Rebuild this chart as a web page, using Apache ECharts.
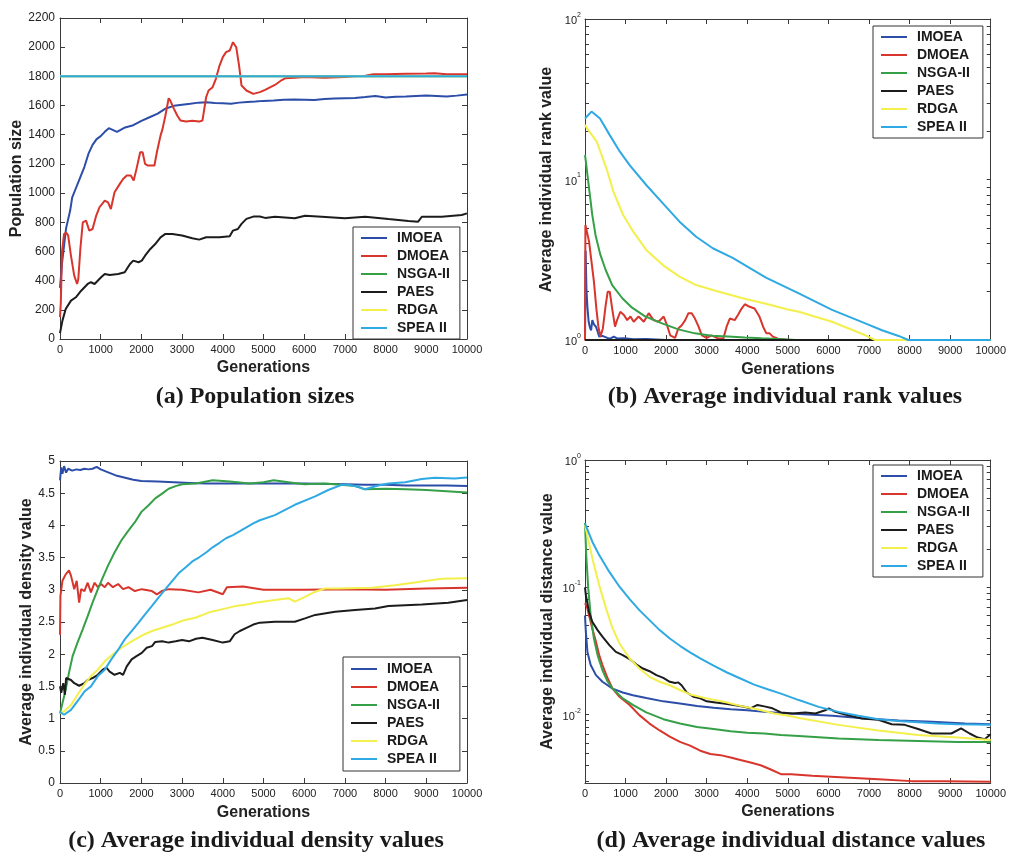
<!DOCTYPE html>
<html>
<head>
<meta charset="utf-8">
<script src="https://cdn.jsdelivr.net/npm/echarts@6/dist/echarts.min.js"></script>
<style>
html,body{margin:0;padding:0;background:#fff;}
#chart{width:1009px;height:857px;}
</style>
</head>
<body>
<div id="chart"></div>
<script>
// ---------- labels ----------
const seriesNames = ['IMOEA', 'DMOEA', 'NSGA-II', 'PAES', 'RDGA', 'SPEA II'];
const captions = ['(a) Population sizes', '(b) Average individual rank values', '(c) Average individual density values', '(d) Average individual distance values'];
const yAxisNames = ['Population size', 'Average individual rank value', 'Average individual density value', 'Average individual distance value'];
const xAxisName = 'Generations';

// ---------- tick values ----------
const logMajorB = [1, 10, 100];
const logMinorB = [2, 3, 4, 5, 6, 7, 8, 9, 20, 30, 40, 50, 60, 70, 80, 90];
const logMajorD = [0.01, 0.1, 1];
const logMinorD = [0.003, 0.004, 0.005, 0.006, 0.007, 0.008, 0.009, 0.02, 0.03, 0.04, 0.05, 0.06, 0.07, 0.08, 0.09, 0.2, 0.3, 0.4, 0.5, 0.6, 0.7, 0.8, 0.9];

// ---------- (a) population sizes ----------
const aGenIMOEA = [0, 50, 100, 150, 200, 250, 300, 400, 500, 600, 700, 800, 900, 1000, 1100, 1200, 1400, 1600, 1800, 2000, 2200, 2400, 2600, 2800, 3000, 3200, 3400, 3600, 3800, 4000, 4200, 4400, 4600, 4800, 5000, 5250, 5500, 5750, 6000, 6250, 6500, 6750, 7000, 7250, 7500, 7750, 8000, 8250, 8500, 8750, 9000, 9250, 9500, 9750, 10000];
const aIMOEA = [350, 520, 640, 760, 820, 880, 970, 1040, 1110, 1180, 1270, 1330, 1370, 1390, 1420, 1445, 1420, 1450, 1465, 1495, 1520, 1545, 1580, 1598, 1605, 1612, 1620, 1622, 1618, 1615, 1612, 1620, 1625, 1628, 1632, 1635, 1640, 1642, 1640, 1638, 1645, 1648, 1650, 1652, 1658, 1665, 1655, 1660, 1662, 1665, 1668, 1665, 1662, 1668, 1675];
const aGenDMOEA = [0, 20, 50, 100, 150, 200, 270, 350, 420, 450, 500, 560, 640, 720, 800, 890, 970, 1100, 1180, 1250, 1340, 1470, 1550, 1640, 1740, 1810, 1880, 1970, 2030, 2090, 2160, 2320, 2380, 2470, 2520, 2590, 2670, 2710, 2800, 2880, 2960, 3100, 3250, 3420, 3500, 3590, 3650, 3750, 3830, 3920, 4000, 4080, 4170, 4250, 4330, 4400, 4460, 4580, 4750, 4910, 5040, 5280, 5450, 5530, 5770, 6000, 6500, 7000, 7200, 7500, 7700, 8000, 8500, 9000, 9200, 9500, 10000];
const aDMOEA = [150, 250, 600, 720, 730, 710, 570, 434, 377, 411, 617, 800, 811, 743, 754, 846, 903, 949, 937, 891, 1006, 1063, 1097, 1120, 1120, 1086, 1166, 1280, 1280, 1200, 1189, 1189, 1280, 1394, 1440, 1532, 1650, 1634, 1577, 1532, 1497, 1490, 1495, 1490, 1497, 1657, 1703, 1726, 1783, 1874, 1932, 1966, 1977, 2034, 2000, 1874, 1737, 1703, 1680, 1692, 1707, 1741, 1775, 1787, 1791, 1795, 1790, 1795, 1800, 1805, 1814, 1815, 1818, 1820, 1822, 1815, 1815];
const aGenNSGA = [0, 10000];
const aNSGA = [1800, 1800];
const aGenPAES = [0, 60, 140, 270, 390, 520, 680, 760, 850, 1010, 1100, 1220, 1430, 1590, 1720, 1800, 1930, 2010, 2090, 2220, 2340, 2470, 2590, 2760, 3000, 3250, 3420, 3590, 3920, 4170, 4250, 4370, 4460, 4580, 4750, 4910, 5040, 5280, 5770, 6020, 6430, 7000, 7500, 8070, 8560, 8800, 8890, 9380, 9870, 10000];
const aPAES = [40, 126, 206, 263, 286, 331, 377, 389, 377, 423, 446, 439, 446, 457, 514, 537, 526, 537, 571, 617, 651, 697, 720, 720, 709, 690, 681, 697, 697, 704, 743, 754, 789, 823, 839, 839, 830, 838, 827, 845, 838, 827, 838, 822, 809, 804, 838, 838, 850, 861];
const aGenRDGA = [0, 10000];
const aRDGA = [1800, 1800];
const aGenSPEA = [0, 10000];
const aSPEA = [1800, 1800];

// ---------- (b) average individual rank values ----------
const bGenIMOEA = [0, 15, 35, 60, 90, 120, 150, 180, 220, 270, 310, 350, 430, 550, 620, 710, 800, 960, 1200, 1500, 2000, 10000];
const bIMOEA = [1.0, 3.6, 2.1, 1.6, 1.3, 1.2, 1.15, 1.33, 1.25, 1.21, 1.13, 1.05, 1.06, 1.03, 1.02, 1.05, 1.02, 1.025, 1.01, 1.015, 1.0, 1.0];
const bGenDMOEA = [0, 10, 30, 100, 160, 220, 280, 330, 380, 440, 510, 560, 610, 670, 740, 790, 870, 960, 1040, 1120, 1200, 1320, 1450, 1570, 1690, 1810, 1940, 2020, 2100, 2220, 2300, 2390, 2470, 2550, 2630, 2710, 2800, 2880, 3000, 3120, 3290, 3410, 3490, 3570, 3690, 3770, 3860, 3940, 4060, 4180, 4300, 4390, 4470, 4550, 4630, 4760, 5000, 10000];
const bDMOEA = [1.0, 5.2, 4.96, 4.1, 3.08, 2.31, 1.57, 1.21, 1.05, 1.18, 1.65, 2.0, 2.0, 1.57, 1.21, 1.33, 1.5, 1.43, 1.33, 1.40, 1.30, 1.40, 1.30, 1.47, 1.33, 1.30, 1.40, 1.24, 1.07, 1.03, 1.18, 1.24, 1.33, 1.47, 1.47, 1.36, 1.21, 1.07, 1.03, 1.07, 1.02, 1.02, 1.21, 1.36, 1.33, 1.43, 1.57, 1.67, 1.61, 1.57, 1.40, 1.21, 1.10, 1.10, 1.05, 1.02, 1.0, 1.0];
const bGenNSGA = [0, 20, 100, 180, 260, 380, 510, 670, 920, 1160, 1490, 1900, 2300, 2710, 3120, 3530, 3940, 4350, 4760, 5200, 10000];
const bNSGA = [14.2, 13, 8.8, 6.0, 4.5, 3.39, 2.73, 2.2, 1.82, 1.59, 1.40, 1.27, 1.165, 1.10, 1.064, 1.05, 1.035, 1.024, 1.014, 1.0, 1.0];
const bGenPAES = [0, 10000];
const bPAES = [1.0, 1.0];
const bGenRDGA = [0, 50, 290, 530, 700, 940, 1190, 1510, 1920, 2330, 2740, 3150, 3550, 3960, 4460, 5000, 5270, 6090, 6500, 6910, 7150, 8000, 10000];
const bRDGA = [21.9, 20.8, 17.2, 11.7, 8.4, 6.01, 4.73, 3.64, 2.93, 2.48, 2.2, 2.05, 1.92, 1.8, 1.68, 1.55, 1.5, 1.3, 1.18, 1.07, 1.0, 1.0, 1.0];
const bGenSPEA = [0, 160, 370, 610, 860, 1100, 1510, 1920, 2330, 2740, 3150, 3640, 4460, 5270, 6090, 6910, 7320, 7730, 7970, 8500, 10000];
const bSPEA = [24, 26.5, 24, 18.9, 14.9, 12.3, 9.24, 7.1, 5.46, 4.4, 3.73, 3.25, 2.45, 1.95, 1.54, 1.27, 1.15, 1.06, 1.0, 1.0, 1.0];

// ---------- (c) average individual density values ----------
const cGenIMOEA = [0, 30, 60, 100, 150, 200, 300, 400, 500, 600, 700, 800, 900, 1000, 1200, 1400, 1600, 1800, 2000, 2400, 2800, 3200, 3600, 4000, 5000, 6000, 7000, 7500, 8000, 8500, 9000, 9500, 10000];
const cIMOEA = [4.7, 4.9, 4.8, 4.92, 4.82, 4.88, 4.85, 4.87, 4.86, 4.88, 4.87, 4.88, 4.91, 4.87, 4.82, 4.77, 4.74, 4.71, 4.69, 4.68, 4.67, 4.66, 4.65, 4.65, 4.65, 4.65, 4.64, 4.63, 4.63, 4.62, 4.62, 4.62, 4.61];
const cGenDMOEA = [0, 10, 60, 140, 220, 270, 350, 410, 470, 520, 600, 680, 760, 850, 930, 1010, 1100, 1180, 1300, 1430, 1550, 1680, 1840, 2010, 2260, 2380, 2500, 2670, 3000, 3400, 3700, 4000, 4100, 4500, 5000, 6000, 7000, 8000, 9000, 10000];
const cDMOEA = [2.3, 2.9, 3.14, 3.24, 3.30, 3.22, 3.01, 3.14, 2.80, 3.01, 2.98, 3.11, 2.96, 3.11, 3.04, 3.09, 3.04, 3.11, 3.04, 3.09, 3.01, 3.04, 2.98, 3.01, 2.98, 2.93, 2.98, 3.01, 3.0, 2.96, 3.0, 2.93, 3.04, 3.05, 3.0, 3.0, 3.01, 3.0, 3.02, 3.03];
const cGenNSGA = [0, 60, 140, 220, 310, 430, 560, 680, 800, 930, 1050, 1180, 1340, 1510, 1680, 1840, 2000, 2170, 2340, 2500, 2670, 2840, 3000, 3340, 3750, 4170, 4660, 5000, 5250, 5750, 6000, 6500, 6900, 7250, 7500, 8000, 8500, 9000, 9500, 10000];
const cNSGA = [1.08, 1.24, 1.45, 1.71, 1.97, 2.18, 2.39, 2.59, 2.80, 3.01, 3.19, 3.375, 3.58, 3.77, 3.92, 4.05, 4.21, 4.31, 4.42, 4.49, 4.57, 4.61, 4.64, 4.65, 4.70, 4.68, 4.65, 4.67, 4.70, 4.66, 4.64, 4.65, 4.63, 4.61, 4.56, 4.57, 4.56, 4.55, 4.53, 4.51];
const cGenPAES = [0, 30, 80, 120, 150, 180, 270, 350, 470, 600, 680, 800, 930, 1050, 1140, 1220, 1340, 1470, 1550, 1640, 1760, 1880, 2010, 2130, 2260, 2340, 2510, 2670, 2840, 3000, 3170, 3340, 3500, 3750, 4000, 4170, 4290, 4420, 4580, 4750, 4910, 5280, 5770, 6020, 6270, 6760, 7250, 7740, 8070, 8890, 9540, 10000];
const cPAES = [1.5, 1.40, 1.55, 1.37, 1.63, 1.60, 1.60, 1.55, 1.51, 1.55, 1.60, 1.63, 1.68, 1.76, 1.79, 1.73, 1.68, 1.71, 1.68, 1.81, 1.92, 1.97, 2.02, 2.10, 2.125, 2.19, 2.20, 2.18, 2.20, 2.22, 2.20, 2.24, 2.255, 2.22, 2.18, 2.20, 2.31, 2.36, 2.41, 2.46, 2.49, 2.505, 2.505, 2.556, 2.61, 2.66, 2.686, 2.71, 2.75, 2.77, 2.80, 2.84];
const cGenRDGA = [0, 100, 270, 430, 600, 760, 930, 1100, 1300, 1510, 1760, 2010, 2260, 2510, 2760, 3000, 3340, 3670, 4000, 4330, 4660, 4790, 5280, 5610, 5770, 6020, 6270, 6510, 6840, 7660, 8230, 8890, 9380, 10000];
const cRDGA = [1.08, 1.11, 1.21, 1.37, 1.53, 1.66, 1.76, 1.89, 2.0, 2.10, 2.20, 2.29, 2.36, 2.41, 2.46, 2.52, 2.57, 2.65, 2.70, 2.75, 2.78, 2.80, 2.84, 2.87, 2.815, 2.89, 2.97, 3.02, 3.02, 3.03, 3.07, 3.13, 3.17, 3.18];
const cGenSPEA = [0, 100, 270, 430, 600, 760, 930, 1100, 1260, 1430, 1590, 1760, 1930, 2090, 2260, 2420, 2590, 2760, 2920, 3090, 3250, 3420, 3590, 3750, 3920, 4080, 4250, 4420, 4580, 4750, 4910, 5280, 5770, 6270, 6590, 6920, 7080, 7330, 7490, 7820, 8070, 8480, 8890, 9210, 9700, 10000];
const cSPEA = [1.1, 1.06, 1.135, 1.27, 1.42, 1.5, 1.66, 1.76, 1.92, 2.07, 2.23, 2.36, 2.49, 2.62, 2.75, 2.88, 3.01, 3.14, 3.26, 3.35, 3.44, 3.505, 3.58, 3.66, 3.73, 3.80, 3.85, 3.91, 3.97, 4.03, 4.08, 4.16, 4.32, 4.45, 4.55, 4.63, 4.63, 4.60, 4.56, 4.62, 4.65, 4.67, 4.72, 4.74, 4.73, 4.745];

// ---------- (d) average individual distance values ----------
const dGenIMOEA = [0, 20, 60, 140, 270, 430, 680, 930, 1180, 1510, 1930, 2340, 2760, 3170, 3590, 4000, 4420, 4830, 5280, 6100, 6920, 7730, 8550, 9370, 10000];
const dIMOEA = [0.06, 0.045, 0.031, 0.0245, 0.0204, 0.0181, 0.016, 0.0149, 0.0142, 0.0135, 0.0127, 0.0122, 0.0117, 0.0113, 0.011, 0.0108, 0.0105, 0.0103, 0.0101, 0.0098, 0.0093, 0.0090, 0.0088, 0.0085, 0.0084];
const dGenDMOEA = [0, 50, 100, 180, 270, 350, 430, 560, 680, 850, 1100, 1340, 1590, 1840, 2090, 2340, 2590, 2840, 3090, 3340, 3590, 3830, 4080, 4330, 4580, 4830, 5080, 5600, 6410, 7230, 8050, 8860, 10000];
const dDMOEA = [0.075, 0.07, 0.06, 0.0475, 0.0373, 0.0293, 0.0245, 0.0192, 0.016, 0.0138, 0.0119, 0.0099, 0.0085, 0.0075, 0.0067, 0.0061, 0.0057, 0.0052, 0.0049, 0.0048, 0.0046, 0.0044, 0.0042, 0.004, 0.0037, 0.0034, 0.0034, 0.0033, 0.0032, 0.0031, 0.0030, 0.0030, 0.00296];
const dGenNSGA = [0, 30, 80, 140, 220, 310, 430, 560, 680, 930, 1180, 1510, 1930, 2340, 2760, 3170, 3590, 4000, 4420, 4830, 5270, 6250, 7230, 8210, 9190, 10000];
const dNSGA = [0.32, 0.18, 0.098, 0.06, 0.0396, 0.0293, 0.0223, 0.0181, 0.016, 0.0134, 0.0119, 0.0104, 0.0092, 0.0085, 0.008, 0.0077, 0.0074, 0.0072, 0.0071, 0.0069, 0.0068, 0.0065, 0.0063, 0.0062, 0.0061, 0.0061];
const dGenPAES = [0, 20, 100, 180, 310, 430, 600, 760, 930, 1100, 1260, 1430, 1590, 1760, 1930, 2090, 2220, 2300, 2380, 2510, 2670, 2840, 3000, 3170, 3420, 3670, 3920, 4080, 4250, 4420, 4620, 4830, 5110, 5430, 5680, 5920, 6010, 6170, 6410, 6820, 7230, 7560, 7880, 8210, 8540, 8780, 9030, 9270, 9480, 9680, 9850, 10000];
const dPAES = [0.1, 0.087, 0.064, 0.0536, 0.0461, 0.0409, 0.0351, 0.0311, 0.0293, 0.0273, 0.0248, 0.023, 0.0219, 0.0204, 0.0194, 0.0181, 0.0177, 0.0179, 0.017, 0.0149, 0.0138, 0.0134, 0.0127, 0.0125, 0.0122, 0.0119, 0.0115, 0.0112, 0.0119, 0.0116, 0.0112, 0.0104, 0.0102, 0.0104, 0.0102, 0.0108, 0.0112, 0.0105, 0.01, 0.0093, 0.0091, 0.0084, 0.0083, 0.0077, 0.0071, 0.0071, 0.0071, 0.0078, 0.0071, 0.0066, 0.0064, 0.007];
const dGenRDGA = [0, 100, 220, 350, 520, 680, 850, 1100, 1340, 1590, 1840, 2090, 2340, 2590, 3000, 3420, 3830, 4250, 4660, 5080, 5270, 6250, 7230, 8210, 9190, 10000];
const dRDGA = [0.31, 0.221, 0.15, 0.104, 0.068, 0.0475, 0.0362, 0.0276, 0.023, 0.0198, 0.0181, 0.017, 0.0156, 0.0144, 0.0134, 0.0126, 0.0117, 0.011, 0.0102, 0.0097, 0.0094, 0.0083, 0.0075, 0.0069, 0.0066, 0.0063];
const dGenSPEA = [0, 180, 350, 600, 850, 1100, 1340, 1590, 1840, 2090, 2340, 2590, 2840, 3170, 3500, 3830, 4170, 4500, 4830, 5270, 5760, 6250, 6740, 7230, 7720, 8210, 8700, 9190, 10000];
const dSPEA = [0.318, 0.228, 0.179, 0.132, 0.101, 0.0807, 0.0662, 0.0552, 0.0461, 0.0396, 0.0347, 0.0308, 0.0276, 0.0242, 0.0214, 0.0192, 0.0172, 0.0158, 0.0146, 0.013, 0.0115, 0.0105, 0.0098, 0.0092, 0.0089, 0.0087, 0.0085, 0.0084, 0.0083];

// ---------- styling & layout ----------
const seriesColors = ['#2d4ea8', '#d8352c', '#35a047', '#1c1c1c', '#f3ef4c', '#2fa9e3'];
const SANS = '"Liberation Sans", Arial, sans-serif';
const AXIS_COLOR = '#3a3a3a';

const panels = [
  { grid: { left: 60, top: 18, width: 407, height: 321 }, yType: 'value', yMin: 0, yMax: 2200, yInterval: 200,
    data: [[aGenIMOEA, aIMOEA], [aGenDMOEA, aDMOEA], [aGenNSGA, aNSGA], [aGenPAES, aPAES], [aGenRDGA, aRDGA], [aGenSPEA, aSPEA]],
    legend: { left: 353, top: 227, padding: [4, 10, 4, 8] }, yNameGap: 32, xNameGap: 21, caption: [255, 397] },
  { grid: { left: 585, top: 19, width: 408, height: 321 }, yType: 'log', yMin: 1, yMax: 100, major: logMajorB, minor: logMinorB,
    data: [[bGenIMOEA, bIMOEA], [bGenDMOEA, bDMOEA], [bGenNSGA, bNSGA], [bGenPAES, bPAES], [bGenRDGA, bRDGA], [bGenSPEA, bSPEA]],
    legend: { left: 873, top: 26, padding: [4, 13, 4, 8] }, yNameGap: 30, xNameGap: 22, caption: [785, 397] },
  { grid: { left: 60, top: 461, width: 407, height: 322 }, yType: 'value', yMin: 0, yMax: 5, yInterval: 0.5,
    data: [[cGenIMOEA, cIMOEA], [cGenDMOEA, cDMOEA], [cGenNSGA, cNSGA], [cGenPAES, cPAES], [cGenRDGA, cRDGA], [cGenSPEA, cSPEA]],
    legend: { left: 343, top: 657, padding: [5, 20, 5, 8] }, yNameGap: 25, xNameGap: 22, caption: [256, 841] },
  { grid: { left: 585, top: 460, width: 408, height: 323 }, yType: 'log', yMin: 0.0029, yMax: 1, major: logMajorD, minor: logMinorD,
    data: [[dGenIMOEA, dIMOEA], [dGenDMOEA, dDMOEA], [dGenNSGA, dNSGA], [dGenPAES, dPAES], [dGenRDGA, dRDGA], [dGenSPEA, dSPEA]],
    legend: { left: 873, top: 465, padding: [4, 13, 4, 8] }, yNameGap: 29, xNameGap: 21, caption: [791, 841] }
];

function zip(xs, ys) { return xs.map((x, i) => [x, ys[i]]); }

const grids = [], xAxes = [], yAxes = [], series = [], legends = [], graphics = [];
const lineAxis = { show: true, onZero: false, lineStyle: { color: AXIS_COLOR, width: 1 } };
const nameStyle = { fontSize: 16, fontWeight: 'bold', fontFamily: SANS, color: '#222' };

panels.forEach((p, i) => {
  grids.push(Object.assign({ containLabel: false }, p.grid));
  const xBase = { gridIndex: i, type: 'value', min: 0, max: 10000, interval: 1000, splitLine: { show: false }, axisLine: lineAxis };
  xAxes.push(Object.assign({}, xBase, {
    position: 'bottom',
    axisTick: { inside: true, length: 5, lineStyle: { color: AXIS_COLOR } },
    axisLabel: { fontSize: 11, fontFamily: SANS, color: '#222', margin: 5, formatter: v => String(v) },
    name: xAxisName, nameLocation: 'middle', nameGap: p.xNameGap, nameTextStyle: nameStyle
  }));
  const xBottomIdx = xAxes.length - 1;
  xAxes.push(Object.assign({}, xBase, {
    position: 'top', axisTick: { inside: true, length: 5, lineStyle: { color: AXIS_COLOR } }, axisLabel: { show: false }
  }));

  const yBase = { gridIndex: i, type: p.yType, min: p.yMin, max: p.yMax, splitLine: { show: false }, axisLine: lineAxis };
  if (p.yType === 'value') yBase.interval = p.yInterval;
  let yLabel, yTick;
  if (p.yType === 'log') {
    yLabel = {
      fontSize: 11, fontFamily: SANS, color: '#222', margin: 4, customValues: p.major,
      formatter: v => '{b|10}{s|' + Math.round(Math.log10(v)) + '}',
      rich: {
        b: { fontSize: 11, fontFamily: SANS, color: '#222', verticalAlign: 'bottom', padding: [4, 0, 0, 0] },
        s: { fontSize: 7, fontFamily: SANS, color: '#222', verticalAlign: 'top' }
      }
    };
    yTick = { inside: true, length: 4, customValues: p.major.concat(p.minor).sort((u, w) => u - w), lineStyle: { color: AXIS_COLOR } };
  } else {
    yLabel = { fontSize: 12, fontFamily: SANS, color: '#222', margin: 5, formatter: v => String(v) };
    yTick = { inside: true, length: 5, lineStyle: { color: AXIS_COLOR } };
  }
  yAxes.push(Object.assign({}, yBase, {
    position: 'left', axisTick: yTick, axisLabel: yLabel,
    name: yAxisNames[i], nameLocation: 'middle', nameGap: p.yNameGap, nameTextStyle: nameStyle
  }));
  const yLeftIdx = yAxes.length - 1;
  yAxes.push(Object.assign({}, yBase, { position: 'right', axisTick: yTick, axisLabel: { show: false } }));

  p.data.forEach((d, k) => {
    series.push({
      type: 'line', name: seriesNames[k], xAxisIndex: xBottomIdx, yAxisIndex: yLeftIdx,
      data: zip(d[0], d[1]), showSymbol: false, symbol: 'none', clip: true,
      color: seriesColors[k], lineStyle: { color: seriesColors[k], width: 2 }
    });
  });

  legends.push({
    orient: 'vertical', left: p.legend.left, top: p.legend.top, data: seriesNames.slice(),
    icon: 'rect', itemWidth: 26, itemHeight: 2, itemGap: 4, padding: p.legend.padding,
    borderColor: '#333', borderWidth: 1, backgroundColor: '#fff', selectedMode: false,
    textStyle: { fontSize: 14, fontWeight: 'bold', fontFamily: SANS, color: '#1a1a1a', lineHeight: 14, padding: [0, 0, 0, 5] }
  });

  graphics.push({
    type: 'text', x: p.caption[0], y: p.caption[1],
    style: { text: captions[i], font: 'bold 24px "Liberation Serif", "Times New Roman", serif', fill: '#1a1a1a', align: 'center', verticalAlign: 'middle' }
  });
});

const chart = echarts.init(document.getElementById('chart'), null, { renderer: 'canvas' });
chart.setOption({
  animation: false,
  backgroundColor: '#ffffff',
  grid: grids, xAxis: xAxes, yAxis: yAxes, series: series, legend: legends, graphic: graphics
});
</script>
</body>
</html>
